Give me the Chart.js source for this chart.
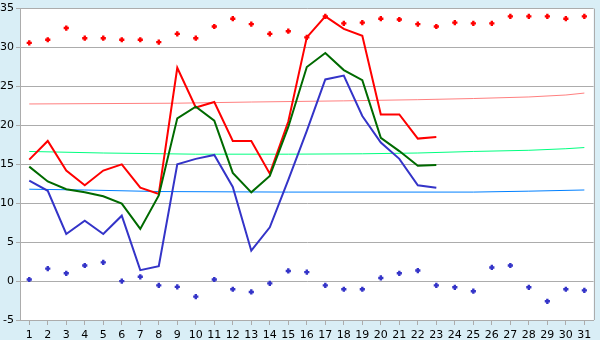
<!DOCTYPE html>
<html><head><meta charset="utf-8">
<script src="https://cdn.jsdelivr.net/npm/chart.js@4/dist/chart.umd.min.js"></script>
<style>
html,body{margin:0;padding:0;background:#d9eef6;}
#wrap{width:600px;height:340px;position:relative;}
canvas{display:block;}
</style></head><body>
<div id="wrap"><canvas id="c" width="600" height="340"></canvas></div>
<script>
const days = ['1','2','3','4','5','6','7','8','9','10','11','12','13','14','15','16','17','18','19','20','21','22','23','24','25','26','27','28','29','30','31'];
const yTicks = [-5, 0, 5, 10, 15, 20, 25, 30, 35];

// daily maximum / average / minimum (days 1-23)
const maxTemp = [15.6, 18.0, 14.2, 12.3, 14.2, 15.0, 12.0, 11.2, 27.4, 22.3, 23.0, 18.0, 18.0, 13.8, 20.5, 31.3, 34.0, 32.4, 31.5, 21.4, 21.4, 18.3, 18.5];
const avgTemp = [14.7, 12.8, 11.8, 11.4, 10.9, 9.95, 6.7, 11.0, 20.9, 22.4, 20.6, 13.9, 11.4, 13.5, 19.8, 27.5, 29.3, 27.1, 25.8, 18.4, 16.7, 14.8, 14.9];
const minTemp = [12.9, 11.6, 6.05, 7.75, 6.05, 8.4, 1.4, 1.9, 15.0, 15.7, 16.2, 12.1, 3.9, 6.9, 13.0, 19.3, 25.9, 26.4, 21.2, 17.8, 15.7, 12.3, 12.0];

// record values (all 31 days)
const maxRecord = [30.6, 31.0, 32.5, 31.2, 31.2, 31.0, 31.0, 30.7, 31.75, 31.2, 32.7, 33.7, 33.0, 31.75, 32.1, 31.3, 34.0, 33.1, 33.2, 33.7, 33.6, 33.0, 32.7, 33.2, 33.1, 33.1, 34.0, 34.0, 34.0, 33.7, 34.0];
const minRecord = [0.2, 1.6, 1.0, 2.0, 2.4, 0.0, 0.55, -0.55, -0.75, -2.0, 0.2, -1.05, -1.4, -0.3, 1.3, 1.15, -0.55, -1.05, -1.05, 0.4, 1.0, 1.35, -0.55, -0.8, -1.3, 1.75, 2.0, -0.8, -2.6, -1.05, -1.2];

// normal (long-term mean) curves, read at a few days
const maxNormal = [22.75, null, null, null, null, null, null, null, 22.85, null, null, null, 23.0, null, null, null, null, 23.15, null, null, null, 23.3, null, null, 23.45, null, null, 23.65, null, 23.9, 24.15];
const avgNormal = [16.65, null, null, null, 16.45, null, null, null, null, 16.3, null, null, null, null, 16.3, null, null, null, 16.35, null, null, 16.45, null, null, 16.65, null, null, 16.8, null, 17.0, 17.15];
const minNormal = [11.8, null, null, 11.7, null, null, null, 11.5, null, null, null, null, null, null, 11.43, null, null, null, null, null, null, null, null, null, 11.43, null, null, 11.55, null, null, 11.7];

const GRID = '#acacac';

const plotArea = {
  id: 'plotArea',
  beforeDraw(chart) {
    const {ctx, chartArea: a} = chart;
    ctx.save();
    ctx.fillStyle = '#ffffff';
    ctx.fillRect(a.left, a.top, a.right - a.left, a.bottom - a.top);
    ctx.restore();
  },
  beforeDatasetsDraw(chart) {
    const {ctx, chartArea: a} = chart;
    ctx.save();
    ctx.strokeStyle = GRID;
    ctx.lineWidth = 1;
    ctx.beginPath();
    const r = Math.round(a.right) + 0.5;
    ctx.moveTo(r, a.top);
    ctx.lineTo(r, a.bottom);
    ctx.stroke();
    ctx.restore();
  }
};

const line = (data, color, w) => ({
  data, borderColor: color, backgroundColor: color, borderWidth: w,
  pointRadius: 0, tension: 0, fill: false, spanGaps: true
});
const dots = (data, color) => ({
  data, showLine: false, borderColor: color, backgroundColor: color,
  pointStyle: 'cross', pointRadius: 2.6, borderWidth: 2.4
});

new Chart(document.getElementById('c'), {
  type: 'line',
  data: {
    labels: days,
    datasets: [
      line(minTemp, '#3434c8', 2),
      line(avgTemp, '#006a00', 2),
      line(maxTemp, '#ff0000', 2),
      dots(maxRecord, '#ff0000'),
      dots(minRecord, '#3434c8'),
      line(maxNormal, '#ff8080', 1),
      line(avgNormal, '#00ff80', 1),
      line(minNormal, '#0080ff', 1)
    ]
  },
  options: {
    responsive: false,
    devicePixelRatio: 1,
    animation: false,
    layout: {padding: {left: 0, right: 5, top: 5, bottom: 0}},
    plugins: {legend: {display: false}, tooltip: {enabled: false}},
    scales: {
      x: {
        type: 'category',
        offset: true,
        grid: {offset: false, drawOnChartArea: false, drawTicks: true, tickLength: 5, color: GRID},
        border: {color: GRID},
        ticks: {font: {family: 'DejaVu Sans', size: 11}, color: '#000', padding: 4, maxRotation: 0, autoSkip: false},
        afterFit(s) { s.height = 20; }
      },
      y: {
        min: -5, max: 35,
        afterBuildTicks(s) { s.ticks = yTicks.map(v => ({value: v})); },
        grid: {color: GRID, tickLength: 4, drawTicks: true},
        border: {color: GRID},
        ticks: {font: {family: 'DejaVu Sans', size: 11}, color: '#000', padding: 2},
        afterFit(s) { s.width = 20; }
      }
    }
  },
  plugins: [plotArea]
});
</script>
</body></html>
